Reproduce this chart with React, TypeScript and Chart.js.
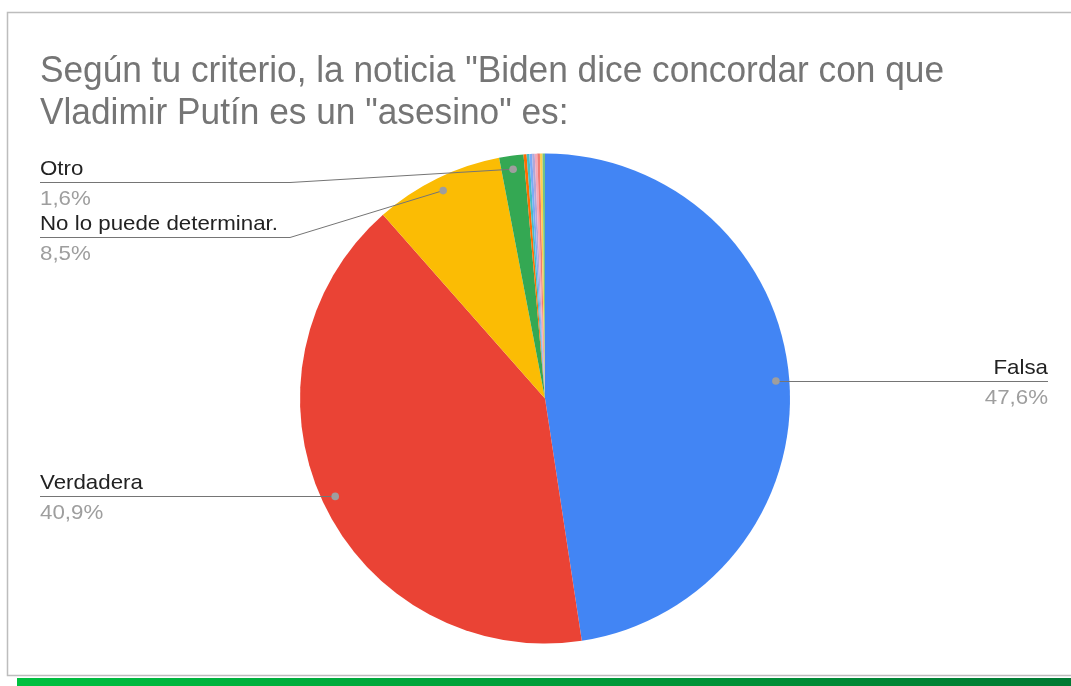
import React, { useEffect, useRef } from "react";
import { Chart, registerables } from "chart.js";

Chart.register(...registerables);

const titleLines = [
  'Según tu criterio, la noticia "Biden dice concordar con que',
  'Vladimir Putín es un "asesino" es:',
];
const categories = [
  "Falsa",
  "Verdadera",
  "No lo puede determinar.",
  "Otro",
  "Opción 5",
  "Opción 6",
  "Opción 7",
  "Opción 8",
  "Opción 9",
  "Opción 10",
  "Opción 11",
  "Opción 12",
];
const shares = [47.6, 40.9, 8.5, 1.6, 0.2, 0.18, 0.18, 0.17, 0.17, 0.17, 0.17, 0.16];
const colors = [
  "#4285F4",
  "#EA4335",
  "#FBBC04",
  "#34A853",
  "#FF6D01",
  "#46BDC6",
  "#7BAAF7",
  "#B4A7D6",
  "#F4A7B9",
  "#F07B72",
  "#FCD04F",
  "#71C287",
];
const labelledCount = 4;

const FONT = "Arial, 'Liberation Sans', sans-serif";

function scaledText(
  ctx: CanvasRenderingContext2D,
  text: string,
  x: number,
  y: number,
  size: number,
  sx: number,
  align: "left" | "right"
) {
  ctx.save();
  ctx.font = `${size}px ${FONT}`;
  const w = ctx.measureText(text).width * sx;
  const left = align === "left" ? x : x - w;
  ctx.translate(left, y);
  ctx.scale(sx, 1);
  ctx.textAlign = "left";
  ctx.textBaseline = "alphabetic";
  ctx.fillText(text, 0, 0);
  ctx.restore();
}

function scaleFor(ctx: CanvasRenderingContext2D, text: string, size: number, target: number) {
  ctx.font = `${size}px ${FONT}`;
  return target / ctx.measureText(text).width;
}

const decorPlugin = {
  id: "decor",
  beforeDraw(chart: any) {
    const ctx = chart.ctx as CanvasRenderingContext2D;
    const W = chart.width;
    ctx.save();
    ctx.fillStyle = "#ffffff";
    ctx.fillRect(0, 0, W, chart.height);
    ctx.strokeStyle = "#bdbdbd";
    ctx.lineWidth = 1.5;
    ctx.beginPath();
    ctx.moveTo(W + 2, 12.5);
    ctx.lineTo(7.5, 12.5);
    ctx.lineTo(7.5, 675.5);
    ctx.lineTo(W + 2, 675.5);
    ctx.stroke();
    const g = ctx.createLinearGradient(17, 0, W, 0);
    g.addColorStop(0, "#00C040");
    g.addColorStop(1, "#007A33");
    ctx.fillStyle = g;
    ctx.fillRect(17, 678, W - 17, 8);
    ctx.restore();
  },
  afterDatasetsDraw(chart: any) {
    const ctx = chart.ctx as CanvasRenderingContext2D;
    ctx.save();
    const tSize = 36;
    const tsx = scaleFor(ctx, titleLines[0], tSize, 904);
    ctx.fillStyle = "#757575";
    scaledText(ctx, titleLines[0], 40, 82, tSize, tsx, "left");
    scaledText(ctx, titleLines[1], 40, 124, tSize, tsx, "left");

    const lSize = 21;
    const lsx = scaleFor(ctx, "No lo puede determinar.", lSize, 238);
    const meta = chart.getDatasetMeta(0);
    const total = shares.reduce((a, b) => a + b, 0);
    for (let i = 0; i < labelledCount; i++) {
      const arc = meta.data[i];
      const p = arc.getProps(["x", "y", "startAngle", "endAngle", "outerRadius"], true);
      const mid = (p.startAngle + p.endAngle) / 2;
      const r = p.outerRadius * 0.945;
      const dx = p.x + Math.cos(mid) * r;
      const dy = p.y + Math.sin(mid) * r;
      const name = categories[i];
      const pct = ((shares[i] / total) * 100).toFixed(1).replace(".", ",") + "%";

      let lineY: number;
      const right = dx > p.x;
      ctx.strokeStyle = "#757575";
      ctx.lineWidth = 1;
      ctx.beginPath();
      if (right) {
        lineY = Math.round(dy) + 0.5;
        ctx.moveTo(dx, lineY);
        ctx.lineTo(1048, lineY);
      } else if (dy > p.y) {
        lineY = Math.round(dy) + 0.5;
        ctx.moveTo(40, lineY);
        ctx.lineTo(dx, lineY);
      } else {
        lineY = i === 2 ? 237.5 : 182.5;
        ctx.moveTo(40, lineY);
        ctx.lineTo(290, lineY);
        ctx.lineTo(dx, dy);
      }
      ctx.stroke();

      ctx.fillStyle = "#9e9e9e";
      ctx.beginPath();
      ctx.arc(dx, dy, 3.8, 0, Math.PI * 2);
      ctx.fill();

      const tx = right ? 1048 : 40;
      const align = right ? "right" : "left";
      ctx.fillStyle = "#222222";
      scaledText(ctx, name, tx, lineY - 8, lSize, lsx, align);
      ctx.fillStyle = "#9e9e9e";
      scaledText(ctx, pct, tx, lineY + 22.5, lSize, lsx, align);
    }
    ctx.restore();
  },
};

export default function App() {
  const ref = useRef<HTMLCanvasElement | null>(null);
  useEffect(() => {
    if (!ref.current) return;
    const chart = new Chart(ref.current, {
      type: "pie",
      data: {
        labels: categories,
        datasets: [
          {
            data: shares,
            backgroundColor: colors,
            borderWidth: 0,
          },
        ],
      },
      options: {
        responsive: false,
        animation: false,
        devicePixelRatio: 1,
        layout: { padding: { left: 300, right: 281, top: 153, bottom: 42 } },
        plugins: {
          legend: { display: false },
          tooltip: { enabled: false },
          title: { display: false },
        },
      },
      plugins: [decorPlugin],
    });
    return () => chart.destroy();
  }, []);
  return (
    <div style={{ position: "fixed", left: 0, top: 0, width: 1071, height: 686, background: "#fff" }}>
      <canvas ref={ref} width={1071} height={686} style={{ width: 1071, height: 686, display: "block" }} />
    </div>
  );
}
